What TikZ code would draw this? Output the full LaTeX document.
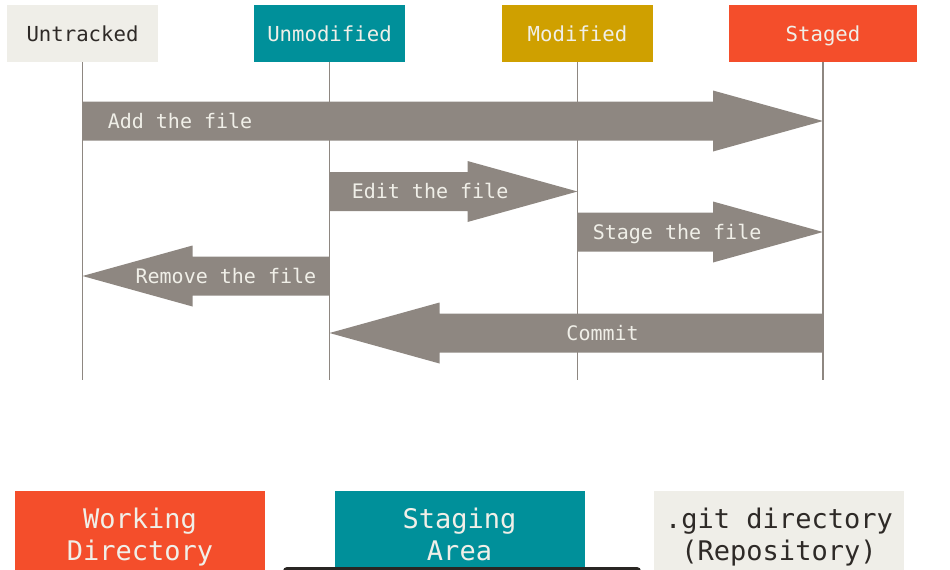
\documentclass[tikz,border=0pt]{standalone}
\usepackage{fontspec}
\usetikzlibrary{calc}
\newfontfamily\gitmono{DejaVu Sans Mono}
\definecolor{gitgray}{HTML}{8E8781}
\definecolor{gitteal}{HTML}{00909A}
\definecolor{gitgold}{HTML}{CFA000}
\definecolor{gitred}{HTML}{F44E2B}
\definecolor{gitpaper}{HTML}{EFEEE8}
\definecolor{gitlight}{HTML}{F0EFE8}
\definecolor{gitink}{HTML}{2E2A27}

\begin{document}
\begin{tikzpicture}[x=0.75pt,y=0.75pt,yscale=-1,xscale=1,
	state/.style={minimum width=113.25pt,minimum height=42.75pt,inner sep=0pt,text depth=0pt,text=gitlight,font=\gitmono\fontsize{15.5}{18}\selectfont},
	area/.style={minimum width=187.5pt,minimum height=72.75pt,inner sep=0pt,align=center,text=gitlight,execute at begin node=\strut,execute at end node=\strut,font=\gitmono\fontsize{20.25}{24}\selectfont},
	lifeline/.style={draw=gitgray,line width=1.1pt},
	flow/.style={fill=gitgray},
	flowlabel/.style={text=gitlight,inner sep=0pt,font=\gitmono\fontsize{15}{18}\selectfont}]
	\useasboundingbox (0,0) rectangle (950,569);
	\clip (0,0) rectangle (950,569);
	\node[state,fill=gitpaper,text=gitink] (untr) at (82.5,33.5) {Untracked};
	\node[state,fill=gitteal] (unmo) at (329.5,33.5) {Unmodified};
	\node[state,fill=gitgold] (modi) at (577.5,33.5) {Modified};
	\node[state,fill=gitred,minimum width=141pt] (stgd) at (823,33.5) {Staged};
	\foreach \n in {untr,unmo,modi,stgd}
		\draw[lifeline] (\n.south) -- (\n.south |- 0,380);
	\foreach \src/\dst/\yy/\dir/\anc/\off/\txt in {untr/stgd/121/1/west/25/Add the file,unmo/modi/191.5/1/west/22/Edit the file,modi/stgd/232/1/west/15/Stage the file,unmo/untr/276/-1/east/-13/Remove the file,stgd/unmo/333/-1/east/-184/Commit}{
		\path (\src.south |- 0,\yy) coordinate (tail) (\dst.south |- 0,\yy) coordinate (tip);
		\fill[flow] ($(tail)+(0,-19.5)$) -- ($(tip)+({-110*(\dir)},-19.5)$) -- ($(tip)+({-110*(\dir)},-30.5)$) -- (tip) -- ($(tip)+({-110*(\dir)},30.5)$) -- ($(tip)+({-110*(\dir)},19.5)$) -- ($(tail)+(0,19.5)$) -- cycle;
		\node[flowlabel,anchor=base \anc] (lbl-\src-\dst) at ($(tail)+(\off,7)$) {\txt};
	}
	\node[area,fill=gitred] (work) at (140,539.5) {Working\\Directory};
	\node[area,fill=gitteal] (stag) at (459.5,539.5) {Staging\\Area};
	\node[area,fill=gitpaper,text=gitink] (repo) at (779,539.5) {.git directory\\(Repository)};
	\fill[gitink!90!black,rounded corners=3pt] (283,567) rectangle (641,600);
\end{tikzpicture}
\end{document}
